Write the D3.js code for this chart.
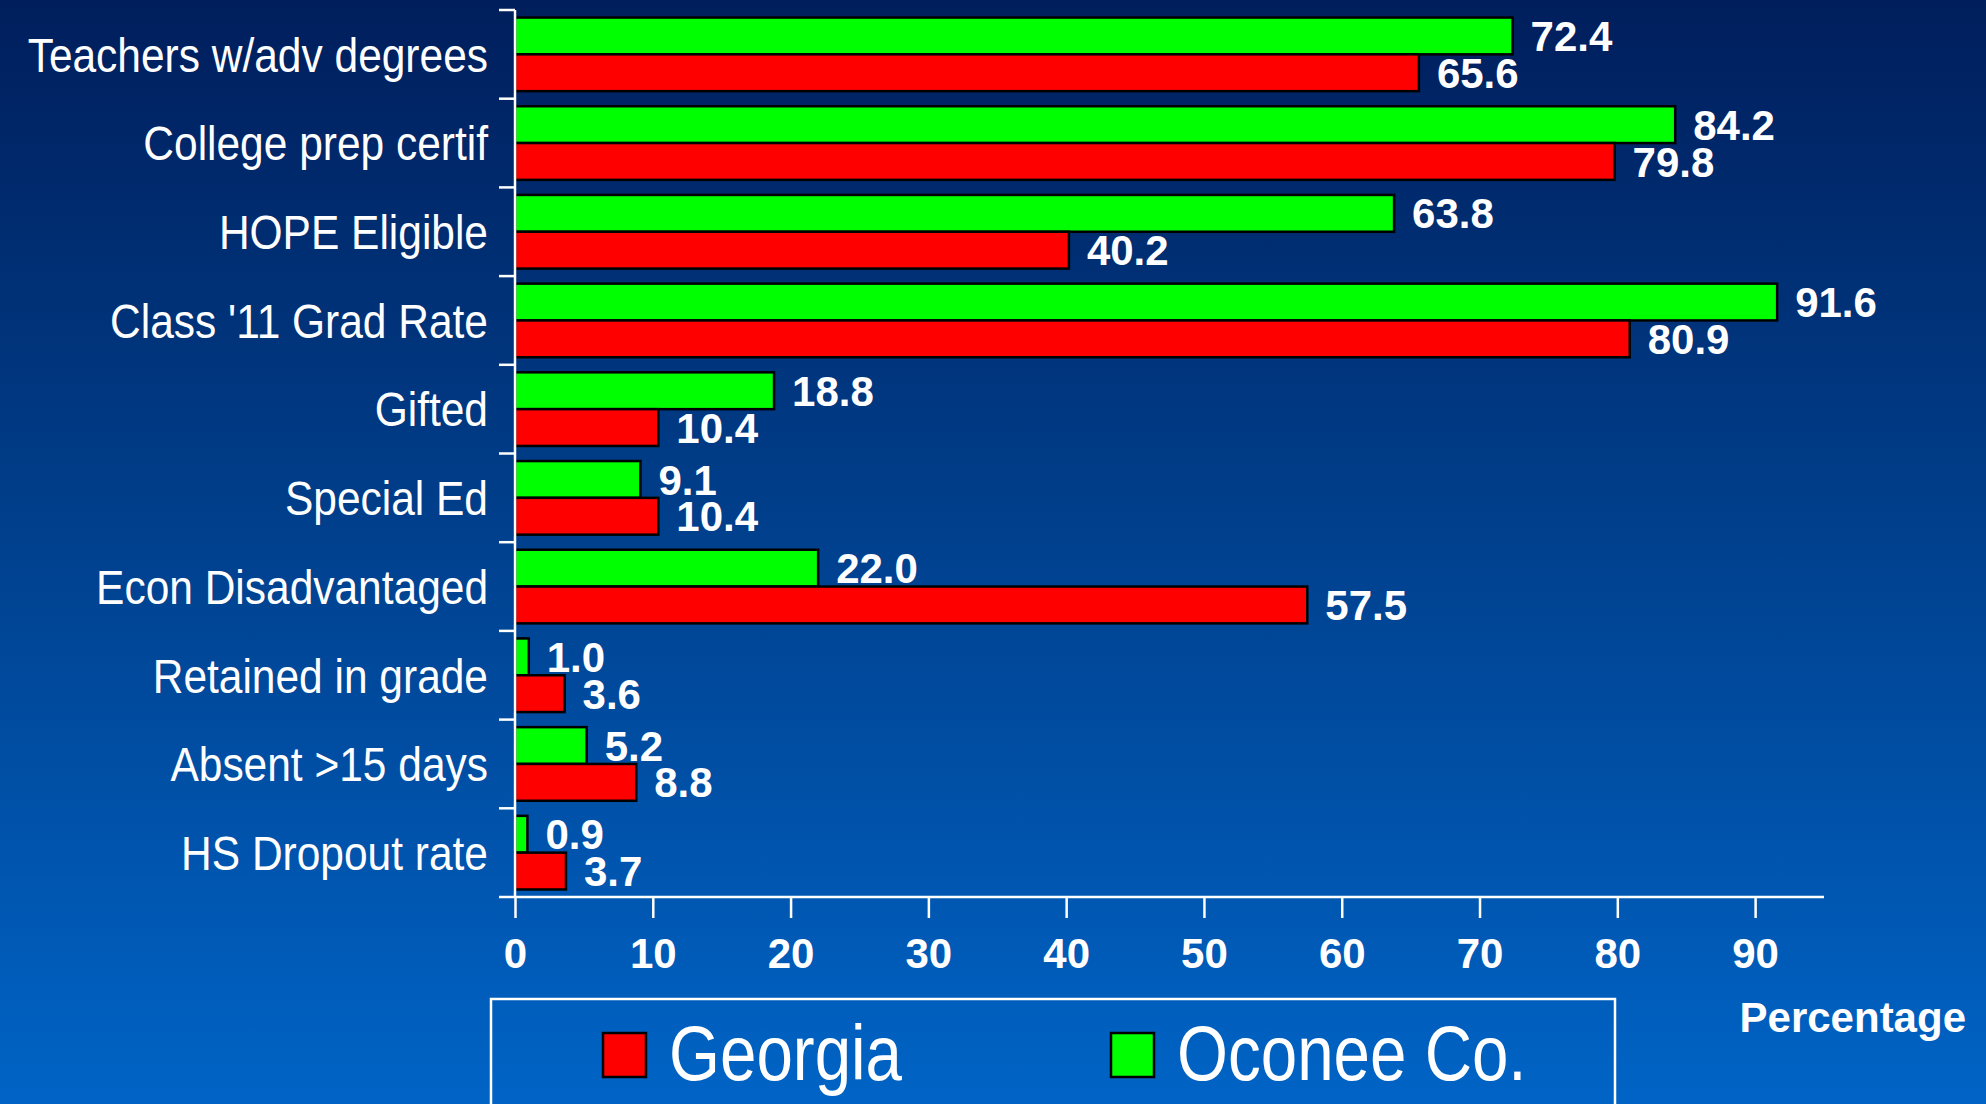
<!DOCTYPE html>
<html><head><meta charset="utf-8">
<script src="https://cdn.jsdelivr.net/npm/d3@7/dist/d3.min.js"></script>
<style>html,body{margin:0;padding:0;overflow:hidden;background:#00306e}</style>
</head><body>
<script>
const categories = ["Teachers w/adv degrees","College prep certif","HOPE Eligible","Class '11 Grad Rate","Gifted","Special Ed","Econ Disadvantaged","Retained in grade","Absent >15 days","HS Dropout rate"];
const oconee = [72.4, 84.2, 63.8, 91.6, 18.8, 9.1, 22.0, 1.0, 5.2, 0.9];
const georgia = [65.6, 79.8, 40.2, 80.9, 10.4, 10.4, 57.5, 3.6, 8.8, 3.7];
const seriesNames = ["Oconee Co.", "Georgia"];
const xTicks = [0,10,20,30,40,50,60,70,80,90];
const xMax = 95;

const W = 1986, H = 1104;
const sans = "'Liberation Sans',Arial,sans-serif";

const svg = d3.select("body").append("svg").attr("width", W).attr("height", H);
const defs = svg.append("defs");
const grad = defs.append("linearGradient").attr("id","bg").attr("x1",0).attr("y1",0).attr("x2",0).attr("y2",1);
grad.append("stop").attr("offset","0%").attr("stop-color","#001e5c");
grad.append("stop").attr("offset","40%").attr("stop-color","#003a84");
grad.append("stop").attr("offset","100%").attr("stop-color","#0064c6");
svg.append("rect").attr("width",W).attr("height",H).attr("fill","url(#bg)");

const x = d3.scaleLinear().domain([0, xMax]).range([515, 1824]);
const y = d3.scaleBand().domain(categories).range([10, 897]).paddingInner(0.17).paddingOuter(0.085);
const ySub = d3.scaleBand().domain(seriesNames).range([0, y.bandwidth()]);
const colors = {"Oconee Co.":"#00ff00","Georgia":"#ff0000"};

const rows = categories.map((c,i)=>({cat:c, vals:[{s:"Oconee Co.",v:oconee[i]},{s:"Georgia",v:georgia[i]}]}));

const g = svg.append("g");
const grp = g.selectAll("g.row").data(rows).join("g").attr("transform", d=>`translate(0,${y(d.cat)})`);
grp.selectAll("rect").data(d=>d.vals).join("rect")
  .attr("x", x(0)).attr("y", d=>ySub(d.s))
  .attr("width", d=>x(d.v)-x(0)).attr("height", ySub.bandwidth())
  .attr("fill", d=>colors[d.s]).attr("stroke","#000").attr("stroke-width",2.5);
grp.selectAll("text").data(d=>d.vals).join("text")
  .attr("x", d=>x(d.v)+18).attr("y", d=>ySub(d.s)+ySub.bandwidth()/2)
  .attr("dy","0.36em")
  .attr("fill","#fff").attr("font-family",sans).attr("font-weight","bold").attr("font-size",42)
  .text(d=>d.v.toFixed(1));

// category labels (condensed)
g.selectAll("text.cat").data(categories).join("text").attr("class","cat")
  .attr("transform", d=>`translate(488,${y(d)+y.bandwidth()/2}) scale(0.885,1)`)
  .attr("dy","0.36em").attr("text-anchor","end")
  .attr("fill","#fff").attr("font-family",sans).attr("font-size",48)
  .text(d=>d);

// y axis line and ticks at band boundaries
const step = y.step();
const y0 = y.range()[0], y1 = y.range()[1];
const bounds = d3.range(categories.length+1).map(i=>y0 + i*step);
g.append("line").attr("x1",x(0)).attr("x2",x(0)).attr("y1",y0).attr("y2",y1).attr("stroke","#fff").attr("stroke-width",2.5);
g.selectAll("line.yt").data(bounds).join("line").attr("class","yt")
  .attr("x1",x(0)-16).attr("x2",x(0)).attr("y1",d=>d).attr("y2",d=>d).attr("stroke","#fff").attr("stroke-width",2.5);

// x axis
const xAxis = d3.axisBottom(x).tickValues(xTicks).tickSize(21).tickPadding(20).tickFormat(d3.format("d"));
const xa = g.append("g").attr("transform",`translate(0,${y1})`).call(xAxis);
xa.select(".domain").remove();
xa.append("line").attr("x1",x(0)).attr("x2",x(xMax)).attr("y1",0).attr("y2",0).attr("stroke","#fff").attr("stroke-width",2.5);
xa.selectAll(".tick line").attr("stroke","#fff").attr("stroke-width",2.5);
xa.selectAll(".tick text").attr("fill","#fff").attr("font-family",sans).attr("font-weight","bold").attr("font-size",42);

svg.append("text").attr("x",1966).attr("y",1032).attr("text-anchor","end")
  .attr("fill","#fff").attr("font-family",sans).attr("font-weight","bold").attr("font-size",42).text("Percentage");

// legend
const lg = svg.append("g");
lg.append("rect").attr("x",491).attr("y",999).attr("width",1124).attr("height",140)
  .attr("fill","none").attr("stroke","#fff").attr("stroke-width",2.5);
const legendItems = [{s:"Georgia", x:603},{s:"Oconee Co.", x:1111}];
legendItems.forEach(it=>{
  lg.append("rect").attr("x",it.x).attr("y",1033).attr("width",43).attr("height",44)
    .attr("fill",colors[it.s]).attr("stroke","#000").attr("stroke-width",2.5);
  lg.append("text").attr("transform",`translate(${it.x+66},1080) scale(0.84,1)`).attr("fill","#fff")
    .attr("font-family",sans).attr("font-size",78).text(it.s);
});
</script>
</body></html>
